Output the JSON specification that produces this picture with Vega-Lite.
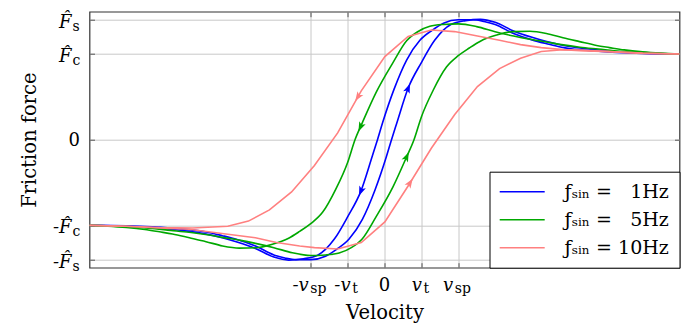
{
  "$schema": "https://vega.github.io/schema/vega-lite/v6.json",
  "width": 590,
  "height": 256,
  "autosize": {"type": "none"},
  "padding": {"left": 89.5, "top": 11.7, "right": 9.5, "bottom": 57.3},
  "config": {
    "view": {"stroke": "#333333", "strokeWidth": 1.2},
    "font": "DejaVu Serif",
    "axis": {"titleFont": "DejaVu Serif", "titleFontWeight": "normal", "titleFontSize": 19.5, "titleColor": "#000000"}
  },
  "datasets": {
    "curves": [
      {"f":"1Hz","b":"A","v":-8,"F":-1.0},{"f":"1Hz","b":"A","v":-7,"F":-1.006},{"f":"1Hz","b":"A","v":-6.3,"F":-1.018},{"f":"1Hz","b":"A","v":-5.8,"F":-1.032},{"f":"1Hz","b":"A","v":-5.3,"F":-1.05},{"f":"1Hz","b":"A","v":-4.8,"F":-1.08},{"f":"1Hz","b":"A","v":-4.4,"F":-1.12},{"f":"1Hz","b":"A","v":-4.0,"F":-1.165},{"f":"1Hz","b":"A","v":-3.5,"F":-1.24},{"f":"1Hz","b":"A","v":-3.0,"F":-1.345},{"f":"1Hz","b":"A","v":-2.7,"F":-1.38},{"f":"1Hz","b":"A","v":-2.4,"F":-1.4},{"f":"1Hz","b":"A","v":-2.0,"F":-1.4},{"f":"1Hz","b":"A","v":-1.6,"F":-1.36},{"f":"1Hz","b":"A","v":-1.3,"F":-1.28},{"f":"1Hz","b":"A","v":-0.96,"F":-1.16},{"f":"1Hz","b":"A","v":-0.6,"F":-0.93},{"f":"1Hz","b":"A","v":-0.26,"F":-0.59},{"f":"1Hz","b":"A","v":0.05,"F":-0.2},{"f":"1Hz","b":"A","v":0.19,"F":0.0},{"f":"1Hz","b":"A","v":0.33,"F":0.189},{"f":"1Hz","b":"A","v":0.64,"F":0.6},{"f":"1Hz","b":"A","v":1.0,"F":0.9},{"f":"1Hz","b":"A","v":1.36,"F":1.16},{"f":"1Hz","b":"A","v":1.8,"F":1.345},{"f":"1Hz","b":"A","v":2.2,"F":1.39},{"f":"1Hz","b":"A","v":2.6,"F":1.405},{"f":"1Hz","b":"A","v":3.0,"F":1.37},{"f":"1Hz","b":"A","v":3.5,"F":1.27},{"f":"1Hz","b":"A","v":4.0,"F":1.195},{"f":"1Hz","b":"A","v":4.4,"F":1.145},{"f":"1Hz","b":"A","v":4.8,"F":1.105},{"f":"1Hz","b":"A","v":5.3,"F":1.07},{"f":"1Hz","b":"A","v":5.8,"F":1.045},{"f":"1Hz","b":"A","v":6.3,"F":1.027},{"f":"1Hz","b":"A","v":7.0,"F":1.01},{"f":"1Hz","b":"A","v":8,"F":1.0},
      {"f":"1Hz","b":"D","v":-8,"F":-1.0},{"f":"1Hz","b":"D","v":-7,"F":-1.01},{"f":"1Hz","b":"D","v":-6.3,"F":-1.027},{"f":"1Hz","b":"D","v":-5.8,"F":-1.045},{"f":"1Hz","b":"D","v":-5.3,"F":-1.07},{"f":"1Hz","b":"D","v":-4.8,"F":-1.105},{"f":"1Hz","b":"D","v":-4.4,"F":-1.145},{"f":"1Hz","b":"D","v":-4.0,"F":-1.195},{"f":"1Hz","b":"D","v":-3.5,"F":-1.27},{"f":"1Hz","b":"D","v":-3.0,"F":-1.37},{"f":"1Hz","b":"D","v":-2.6,"F":-1.405},{"f":"1Hz","b":"D","v":-2.2,"F":-1.39},{"f":"1Hz","b":"D","v":-1.8,"F":-1.345},{"f":"1Hz","b":"D","v":-1.36,"F":-1.16},{"f":"1Hz","b":"D","v":-1.0,"F":-0.9},{"f":"1Hz","b":"D","v":-0.64,"F":-0.6},{"f":"1Hz","b":"D","v":-0.33,"F":-0.189},{"f":"1Hz","b":"D","v":-0.19,"F":0.0},{"f":"1Hz","b":"D","v":-0.05,"F":0.2},{"f":"1Hz","b":"D","v":0.26,"F":0.59},{"f":"1Hz","b":"D","v":0.6,"F":0.93},{"f":"1Hz","b":"D","v":0.96,"F":1.16},{"f":"1Hz","b":"D","v":1.3,"F":1.28},{"f":"1Hz","b":"D","v":1.6,"F":1.36},{"f":"1Hz","b":"D","v":2.0,"F":1.4},{"f":"1Hz","b":"D","v":2.4,"F":1.4},{"f":"1Hz","b":"D","v":2.7,"F":1.38},{"f":"1Hz","b":"D","v":3.0,"F":1.345},{"f":"1Hz","b":"D","v":3.5,"F":1.24},{"f":"1Hz","b":"D","v":4.0,"F":1.165},{"f":"1Hz","b":"D","v":4.4,"F":1.12},{"f":"1Hz","b":"D","v":4.8,"F":1.08},{"f":"1Hz","b":"D","v":5.3,"F":1.05},{"f":"1Hz","b":"D","v":5.8,"F":1.032},{"f":"1Hz","b":"D","v":6.3,"F":1.018},{"f":"1Hz","b":"D","v":7.0,"F":1.006},{"f":"1Hz","b":"D","v":8,"F":1.0},
      {"f":"5Hz","b":"A","v":-8,"F":-1.0},{"f":"5Hz","b":"A","v":-7,"F":-1.015},{"f":"5Hz","b":"A","v":-6.4,"F":-1.032},{"f":"5Hz","b":"A","v":-5.8,"F":-1.058},{"f":"5Hz","b":"A","v":-5.3,"F":-1.08},{"f":"5Hz","b":"A","v":-4.8,"F":-1.11},{"f":"5Hz","b":"A","v":-4.4,"F":-1.14},{"f":"5Hz","b":"A","v":-3.9,"F":-1.175},{"f":"5Hz","b":"A","v":-3.5,"F":-1.21},{"f":"5Hz","b":"A","v":-3.0,"F":-1.26},{"f":"5Hz","b":"A","v":-2.5,"F":-1.32},{"f":"5Hz","b":"A","v":-2.0,"F":-1.352},{"f":"5Hz","b":"A","v":-1.6,"F":-1.345},{"f":"5Hz","b":"A","v":-1.23,"F":-1.323},{"f":"5Hz","b":"A","v":-0.9,"F":-1.26},{"f":"5Hz","b":"A","v":-0.6,"F":-1.155},{"f":"5Hz","b":"A","v":-0.23,"F":-0.9},{"f":"5Hz","b":"A","v":0.23,"F":-0.55},{"f":"5Hz","b":"A","v":0.6,"F":-0.2},{"f":"5Hz","b":"A","v":0.8,"F":0.0},{"f":"5Hz","b":"A","v":1.0,"F":0.266},{"f":"5Hz","b":"A","v":1.32,"F":0.577},{"f":"5Hz","b":"A","v":1.68,"F":0.848},{"f":"5Hz","b":"A","v":2.0,"F":0.98},{"f":"5Hz","b":"A","v":2.3,"F":1.07},{"f":"5Hz","b":"A","v":2.6,"F":1.15},{"f":"5Hz","b":"A","v":3.04,"F":1.221},{"f":"5Hz","b":"A","v":3.49,"F":1.262},{"f":"5Hz","b":"A","v":3.94,"F":1.265},{"f":"5Hz","b":"A","v":4.39,"F":1.24},{"f":"5Hz","b":"A","v":4.84,"F":1.19},{"f":"5Hz","b":"A","v":5.29,"F":1.145},{"f":"5Hz","b":"A","v":5.75,"F":1.1},{"f":"5Hz","b":"A","v":6.1,"F":1.075},{"f":"5Hz","b":"A","v":6.5,"F":1.048},{"f":"5Hz","b":"A","v":7.0,"F":1.025},{"f":"5Hz","b":"A","v":7.5,"F":1.01},{"f":"5Hz","b":"A","v":8,"F":1.0},
      {"f":"5Hz","b":"D","v":-8,"F":-1.0},{"f":"5Hz","b":"D","v":-7.5,"F":-1.01},{"f":"5Hz","b":"D","v":-7,"F":-1.025},{"f":"5Hz","b":"D","v":-6.5,"F":-1.048},{"f":"5Hz","b":"D","v":-6.1,"F":-1.075},{"f":"5Hz","b":"D","v":-5.75,"F":-1.1},{"f":"5Hz","b":"D","v":-5.29,"F":-1.145},{"f":"5Hz","b":"D","v":-4.84,"F":-1.19},{"f":"5Hz","b":"D","v":-4.39,"F":-1.24},{"f":"5Hz","b":"D","v":-3.94,"F":-1.265},{"f":"5Hz","b":"D","v":-3.49,"F":-1.262},{"f":"5Hz","b":"D","v":-3.04,"F":-1.221},{"f":"5Hz","b":"D","v":-2.6,"F":-1.15},{"f":"5Hz","b":"D","v":-2.3,"F":-1.07},{"f":"5Hz","b":"D","v":-2.0,"F":-0.98},{"f":"5Hz","b":"D","v":-1.68,"F":-0.848},{"f":"5Hz","b":"D","v":-1.32,"F":-0.577},{"f":"5Hz","b":"D","v":-1.0,"F":-0.266},{"f":"5Hz","b":"D","v":-0.8,"F":0.0},{"f":"5Hz","b":"D","v":-0.6,"F":0.2},{"f":"5Hz","b":"D","v":-0.23,"F":0.55},{"f":"5Hz","b":"D","v":0.23,"F":0.9},{"f":"5Hz","b":"D","v":0.6,"F":1.155},{"f":"5Hz","b":"D","v":0.9,"F":1.26},{"f":"5Hz","b":"D","v":1.23,"F":1.323},{"f":"5Hz","b":"D","v":1.6,"F":1.345},{"f":"5Hz","b":"D","v":2.0,"F":1.352},{"f":"5Hz","b":"D","v":2.5,"F":1.32},{"f":"5Hz","b":"D","v":3.0,"F":1.26},{"f":"5Hz","b":"D","v":3.5,"F":1.21},{"f":"5Hz","b":"D","v":3.9,"F":1.175},{"f":"5Hz","b":"D","v":4.4,"F":1.14},{"f":"5Hz","b":"D","v":4.8,"F":1.11},{"f":"5Hz","b":"D","v":5.3,"F":1.08},{"f":"5Hz","b":"D","v":5.8,"F":1.058},{"f":"5Hz","b":"D","v":6.4,"F":1.032},{"f":"5Hz","b":"D","v":7,"F":1.015},{"f":"5Hz","b":"D","v":8,"F":1.0},
      {"f":"10Hz","b":"A","v":-8,"F":-1.0},{"f":"10Hz","b":"A","v":-7,"F":-1.01},{"f":"10Hz","b":"A","v":-6.1,"F":-1.03},{"f":"10Hz","b":"A","v":-5.3,"F":-1.045},{"f":"10Hz","b":"A","v":-4.3,"F":-1.1},{"f":"10Hz","b":"A","v":-3.5,"F":-1.145},{"f":"10Hz","b":"A","v":-2.93,"F":-1.2},{"f":"10Hz","b":"A","v":-2.3,"F":-1.24},{"f":"10Hz","b":"A","v":-1.9,"F":-1.26},{"f":"10Hz","b":"A","v":-1.27,"F":-1.275},{"f":"10Hz","b":"A","v":-0.63,"F":-1.2},{"f":"10Hz","b":"A","v":0.01,"F":-0.96},{"f":"10Hz","b":"A","v":0.64,"F":-0.54},{"f":"10Hz","b":"A","v":1.27,"F":-0.1},{"f":"10Hz","b":"A","v":1.9,"F":0.29},{"f":"10Hz","b":"A","v":2.52,"F":0.62},{"f":"10Hz","b":"A","v":3.12,"F":0.83},{"f":"10Hz","b":"A","v":3.69,"F":0.95},{"f":"10Hz","b":"A","v":4.25,"F":1.03},{"f":"10Hz","b":"A","v":4.84,"F":1.05},{"f":"10Hz","b":"A","v":5.3,"F":1.045},{"f":"10Hz","b":"A","v":6.1,"F":1.028},{"f":"10Hz","b":"A","v":7,"F":1.01},{"f":"10Hz","b":"A","v":8,"F":1.0},
      {"f":"10Hz","b":"D","v":-8,"F":-1.0},{"f":"10Hz","b":"D","v":-7,"F":-1.01},{"f":"10Hz","b":"D","v":-6.1,"F":-1.025},{"f":"10Hz","b":"D","v":-5.2,"F":-1.03},{"f":"10Hz","b":"D","v":-4.25,"F":-1.01},{"f":"10Hz","b":"D","v":-3.69,"F":-0.95},{"f":"10Hz","b":"D","v":-3.12,"F":-0.82},{"f":"10Hz","b":"D","v":-2.52,"F":-0.61},{"f":"10Hz","b":"D","v":-1.9,"F":-0.3},{"f":"10Hz","b":"D","v":-1.27,"F":0.08},{"f":"10Hz","b":"D","v":-0.63,"F":0.57},{"f":"10Hz","b":"D","v":0.01,"F":0.97},{"f":"10Hz","b":"D","v":0.64,"F":1.206},{"f":"10Hz","b":"D","v":1.27,"F":1.28},{"f":"10Hz","b":"D","v":1.9,"F":1.262},{"f":"10Hz","b":"D","v":2.52,"F":1.21},{"f":"10Hz","b":"D","v":3.12,"F":1.16},{"f":"10Hz","b":"D","v":3.69,"F":1.11},{"f":"10Hz","b":"D","v":4.25,"F":1.075},{"f":"10Hz","b":"D","v":4.84,"F":1.051},{"f":"10Hz","b":"D","v":5.3,"F":1.04},{"f":"10Hz","b":"D","v":6.1,"F":1.028},{"f":"10Hz","b":"D","v":7,"F":1.008},{"f":"10Hz","b":"D","v":8,"F":1.0}
    ],
    "arrows": [
      {"f":"1Hz","dir":"up","v":0.64,"F":0.6},
      {"f":"1Hz","dir":"down","v":-0.64,"F":-0.6},
      {"f":"5Hz","dir":"up","v":0.6,"F":-0.2},
      {"f":"5Hz","dir":"down","v":-0.65,"F":0.15},
      {"f":"10Hz","dir":"up","v":0.69,"F":-0.505},
      {"f":"10Hz","dir":"down","v":-0.72,"F":0.5}
    ],
    "xlab": [
      {"v":-2,"main":"-v","sub":"sp"},
      {"v":-1,"main":"-v","sub":"t"},
      {"v":0,"main":"0","sub":""},
      {"v":1,"main":"v","sub":"t"},
      {"v":2,"main":"v","sub":"sp"}
    ],
    "ylab": [
      {"F":1.4,"main":"F\u0302","sub":"s"},
      {"F":1.0,"main":"F\u0302","sub":"c"},
      {"F":0,"main":"0","sub":""},
      {"F":-1.0,"main":"-F\u0302","sub":"c"},
      {"F":-1.4,"main":"-F\u0302","sub":"s"}
    ]
  },
  "layer": [
    {
      "data": {"name": "curves"},
      "transform": [{"filter": "datum.f != '10Hz'"}],
      "mark": {"type": "line", "strokeWidth": 1.6, "interpolate": "monotone"},
      "encoding": {
        "x": {"field": "v", "type": "quantitative", "scale": {"domain": [-8, 8], "nice": false, "zero": false},
          "axis": {"orient": "bottom", "values": [-2, -1, 0, 1, 2], "labels": false, "domain": false, "grid": true, "gridColor": "#c8c8c8", "gridWidth": 1, "ticks": true, "tickSize": -5, "tickColor": "#555555", "tickWidth": 1, "title": "Velocity", "titleY": 50.3, "titleBaseline": "alphabetic"}},
        "y": {"field": "F", "type": "quantitative", "scale": {"domain": [-1.494, 1.494], "nice": false, "zero": false},
          "axis": {"orient": "left", "values": [-1.4, -1, 0, 1, 1.4], "labels": false, "domain": false, "grid": true, "gridColor": "#c8c8c8", "gridWidth": 1, "ticks": true, "tickSize": -5, "tickColor": "#555555", "tickWidth": 1, "title": "Friction force", "titleX": -54.5, "titleY": 128, "titleAngle": 270, "titleAlign": "center", "titleBaseline": "alphabetic"}},
        "color": {"field": "f", "type": "nominal", "scale": {"domain": ["1Hz", "5Hz", "10Hz"], "range": ["#0000ff", "#00a800", "#ff8080"]},
          "legend": {"title": null, "orient": "bottom-right", "offset": 0, "padding": 10, "strokeColor": "#000000", "fillColor": "#ffffff", "cornerRadius": 0, "symbolType": "M-2.5,0L2.5,0", "symbolSize": 324, "symbolStrokeWidth": 1.6, "symbolOffset": 12.7, "labelFont": "DejaVu Serif", "labelFontSize": 19, "labelColor": "#000000", "labelOffset": 32.4, "rowPadding": 8,
            "labelExpr": "'\u0192\u209b\u1d62\u2099 = ' + (datum.label == '10Hz' ? '' : '\u2007') + datum.label"}},
        "detail": {"field": "b", "type": "nominal"}
      }
    },
    {
      "data": {"name": "curves"},
      "transform": [{"filter": "datum.f == '10Hz'"}],
      "mark": {"type": "line", "strokeWidth": 1.6, "interpolate": "linear"},
      "encoding": {
        "x": {"field": "v", "type": "quantitative", "axis": null},
        "y": {"field": "F", "type": "quantitative", "axis": null},
        "color": {"field": "f", "type": "nominal"},
        "detail": {"field": "b", "type": "nominal"}
      }
    },
    {
      "data": {"name": "arrows"},
      "transform": [{"filter": "datum.f == '1Hz'"}],
      "mark": {"type": "point", "filled": true, "fill": "#0000ff", "strokeWidth": 0, "opacity": 1, "size": 100, "angle": 22},
      "encoding": {
        "x": {"field": "v", "type": "quantitative", "axis": {"orient": "top", "values": [-2, -1, 0, 1, 2], "labels": false, "domain": false, "grid": false, "ticks": true, "tickSize": -5, "tickColor": "#555555", "tickWidth": 1, "title": null}},
        "y": {"field": "F", "type": "quantitative", "axis": {"orient": "right", "values": [-1.4, -1, 0, 1, 1.4], "labels": false, "domain": false, "grid": false, "ticks": true, "tickSize": -5, "tickColor": "#555555", "tickWidth": 1, "title": null}},
        "shape": {"field": "dir", "type": "nominal", "scale": {"domain": ["up", "down"], "range": ["M0,-1L0.7,0.9L0,0.45L-0.7,0.9Z", "M0,1L0.7,-0.9L0,-0.45L-0.7,-0.9Z"]}, "legend": null}
      }
    },
    {
      "data": {"name": "arrows"},
      "transform": [{"filter": "datum.f == '5Hz'"}],
      "mark": {"type": "point", "filled": true, "fill": "#00a800", "strokeWidth": 0, "opacity": 1, "size": 100, "angle": 25},
      "encoding": {
        "x": {"field": "v", "type": "quantitative", "axis": null},
        "y": {"field": "F", "type": "quantitative", "axis": null},
        "shape": {"field": "dir", "type": "nominal", "legend": null}
      }
    },
    {
      "data": {"name": "arrows"},
      "transform": [{"filter": "datum.f == '10Hz'"}],
      "mark": {"type": "point", "filled": true, "fill": "#ff8080", "strokeWidth": 0, "opacity": 1, "size": 100, "angle": 33},
      "encoding": {
        "x": {"field": "v", "type": "quantitative", "axis": null},
        "y": {"field": "F", "type": "quantitative", "axis": null},
        "shape": {"field": "dir", "type": "nominal", "legend": null}
      }
    },
    {
      "data": {"name": "xlab"},
      "transform": [{"filter": "datum.v == -2"}],
      "mark": {"type": "text", "font": "DejaVu Serif", "fontSize": 18, "fontStyle": "italic", "align": "right", "baseline": "alphabetic", "dx": -2, "dy": 22.8, "color": "#000000"},
      "encoding": {"x": {"field": "v", "type": "quantitative", "axis": null}, "y": {"value": "height"}, "text": {"field": "main"}}
    },
    {
      "data": {"name": "xlab"},
      "transform": [{"filter": "datum.v == -1"}],
      "mark": {"type": "text", "font": "DejaVu Serif", "fontSize": 18, "fontStyle": "italic", "align": "right", "baseline": "alphabetic", "dx": 3, "dy": 22.8, "color": "#000000"},
      "encoding": {"x": {"field": "v", "type": "quantitative", "axis": null}, "y": {"value": "height"}, "text": {"field": "main"}}
    },
    {
      "data": {"name": "xlab"},
      "transform": [{"filter": "datum.v == 1"}],
      "mark": {"type": "text", "font": "DejaVu Serif", "fontSize": 18, "fontStyle": "italic", "align": "right", "baseline": "alphabetic", "dx": 0.5, "dy": 22.8, "color": "#000000"},
      "encoding": {"x": {"field": "v", "type": "quantitative", "axis": null}, "y": {"value": "height"}, "text": {"field": "main"}}
    },
    {
      "data": {"name": "xlab"},
      "transform": [{"filter": "datum.v == 2"}],
      "mark": {"type": "text", "font": "DejaVu Serif", "fontSize": 18, "fontStyle": "italic", "align": "right", "baseline": "alphabetic", "dx": -5, "dy": 22.8, "color": "#000000"},
      "encoding": {"x": {"field": "v", "type": "quantitative", "axis": null}, "y": {"value": "height"}, "text": {"field": "main"}}
    },
    {
      "data": {"name": "xlab"},
      "transform": [{"filter": "datum.v == -2"}],
      "mark": {"type": "text", "font": "DejaVu Serif", "fontSize": 14, "align": "left", "baseline": "alphabetic", "dx": -0.5, "dy": 25, "color": "#000000"},
      "encoding": {"x": {"field": "v", "type": "quantitative", "axis": null}, "y": {"value": "height"}, "text": {"field": "sub"}}
    },
    {
      "data": {"name": "xlab"},
      "transform": [{"filter": "datum.v == -1"}],
      "mark": {"type": "text", "font": "DejaVu Serif", "fontSize": 14, "align": "left", "baseline": "alphabetic", "dx": 4.5, "dy": 25, "color": "#000000"},
      "encoding": {"x": {"field": "v", "type": "quantitative", "axis": null}, "y": {"value": "height"}, "text": {"field": "sub"}}
    },
    {
      "data": {"name": "xlab"},
      "transform": [{"filter": "datum.v == 1"}],
      "mark": {"type": "text", "font": "DejaVu Serif", "fontSize": 14, "align": "left", "baseline": "alphabetic", "dx": 2, "dy": 25, "color": "#000000"},
      "encoding": {"x": {"field": "v", "type": "quantitative", "axis": null}, "y": {"value": "height"}, "text": {"field": "sub"}}
    },
    {
      "data": {"name": "xlab"},
      "transform": [{"filter": "datum.v == 2"}],
      "mark": {"type": "text", "font": "DejaVu Serif", "fontSize": 14, "align": "left", "baseline": "alphabetic", "dx": -3.5, "dy": 25, "color": "#000000"},
      "encoding": {"x": {"field": "v", "type": "quantitative", "axis": null}, "y": {"value": "height"}, "text": {"field": "sub"}}
    },
    {
      "data": {"name": "xlab"},
      "transform": [{"filter": "datum.v == 0"}],
      "mark": {"type": "text", "font": "DejaVu Serif", "fontSize": 18, "align": "center", "baseline": "alphabetic", "dy": 23, "color": "#000000"},
      "encoding": {"x": {"field": "v", "type": "quantitative", "axis": null}, "y": {"value": "height"}, "text": {"field": "main"}}
    },
    {
      "data": {"name": "ylab"},
      "transform": [{"filter": "datum.F != 0"}],
      "mark": {"type": "text", "font": "DejaVu Serif", "fontSize": 18, "fontStyle": "italic", "align": "right", "baseline": "alphabetic", "dx": -18, "dy": 8, "color": "#000000"},
      "encoding": {"x": {"datum": -8, "type": "quantitative", "axis": null}, "y": {"field": "F", "type": "quantitative", "axis": null}, "text": {"field": "main"}}
    },
    {
      "data": {"name": "ylab"},
      "transform": [{"filter": "datum.F != 0"}],
      "mark": {"type": "text", "font": "DejaVu Serif", "fontSize": 14, "align": "left", "baseline": "alphabetic", "dx": -17, "dy": 11, "color": "#000000"},
      "encoding": {"x": {"datum": -8, "type": "quantitative", "axis": null}, "y": {"field": "F", "type": "quantitative", "axis": null}, "text": {"field": "sub"}}
    },
    {
      "data": {"name": "ylab"},
      "transform": [{"filter": "datum.F == 0"}],
      "mark": {"type": "text", "font": "DejaVu Serif", "fontSize": 18, "align": "right", "baseline": "alphabetic", "dx": -9.5, "dy": 6.5, "color": "#000000"},
      "encoding": {"x": {"datum": -8, "type": "quantitative", "axis": null}, "y": {"field": "F", "type": "quantitative", "axis": null}, "text": {"field": "main"}}
    }
  ],
  "resolve": {"axis": {"x": "independent", "y": "independent"}}
}
